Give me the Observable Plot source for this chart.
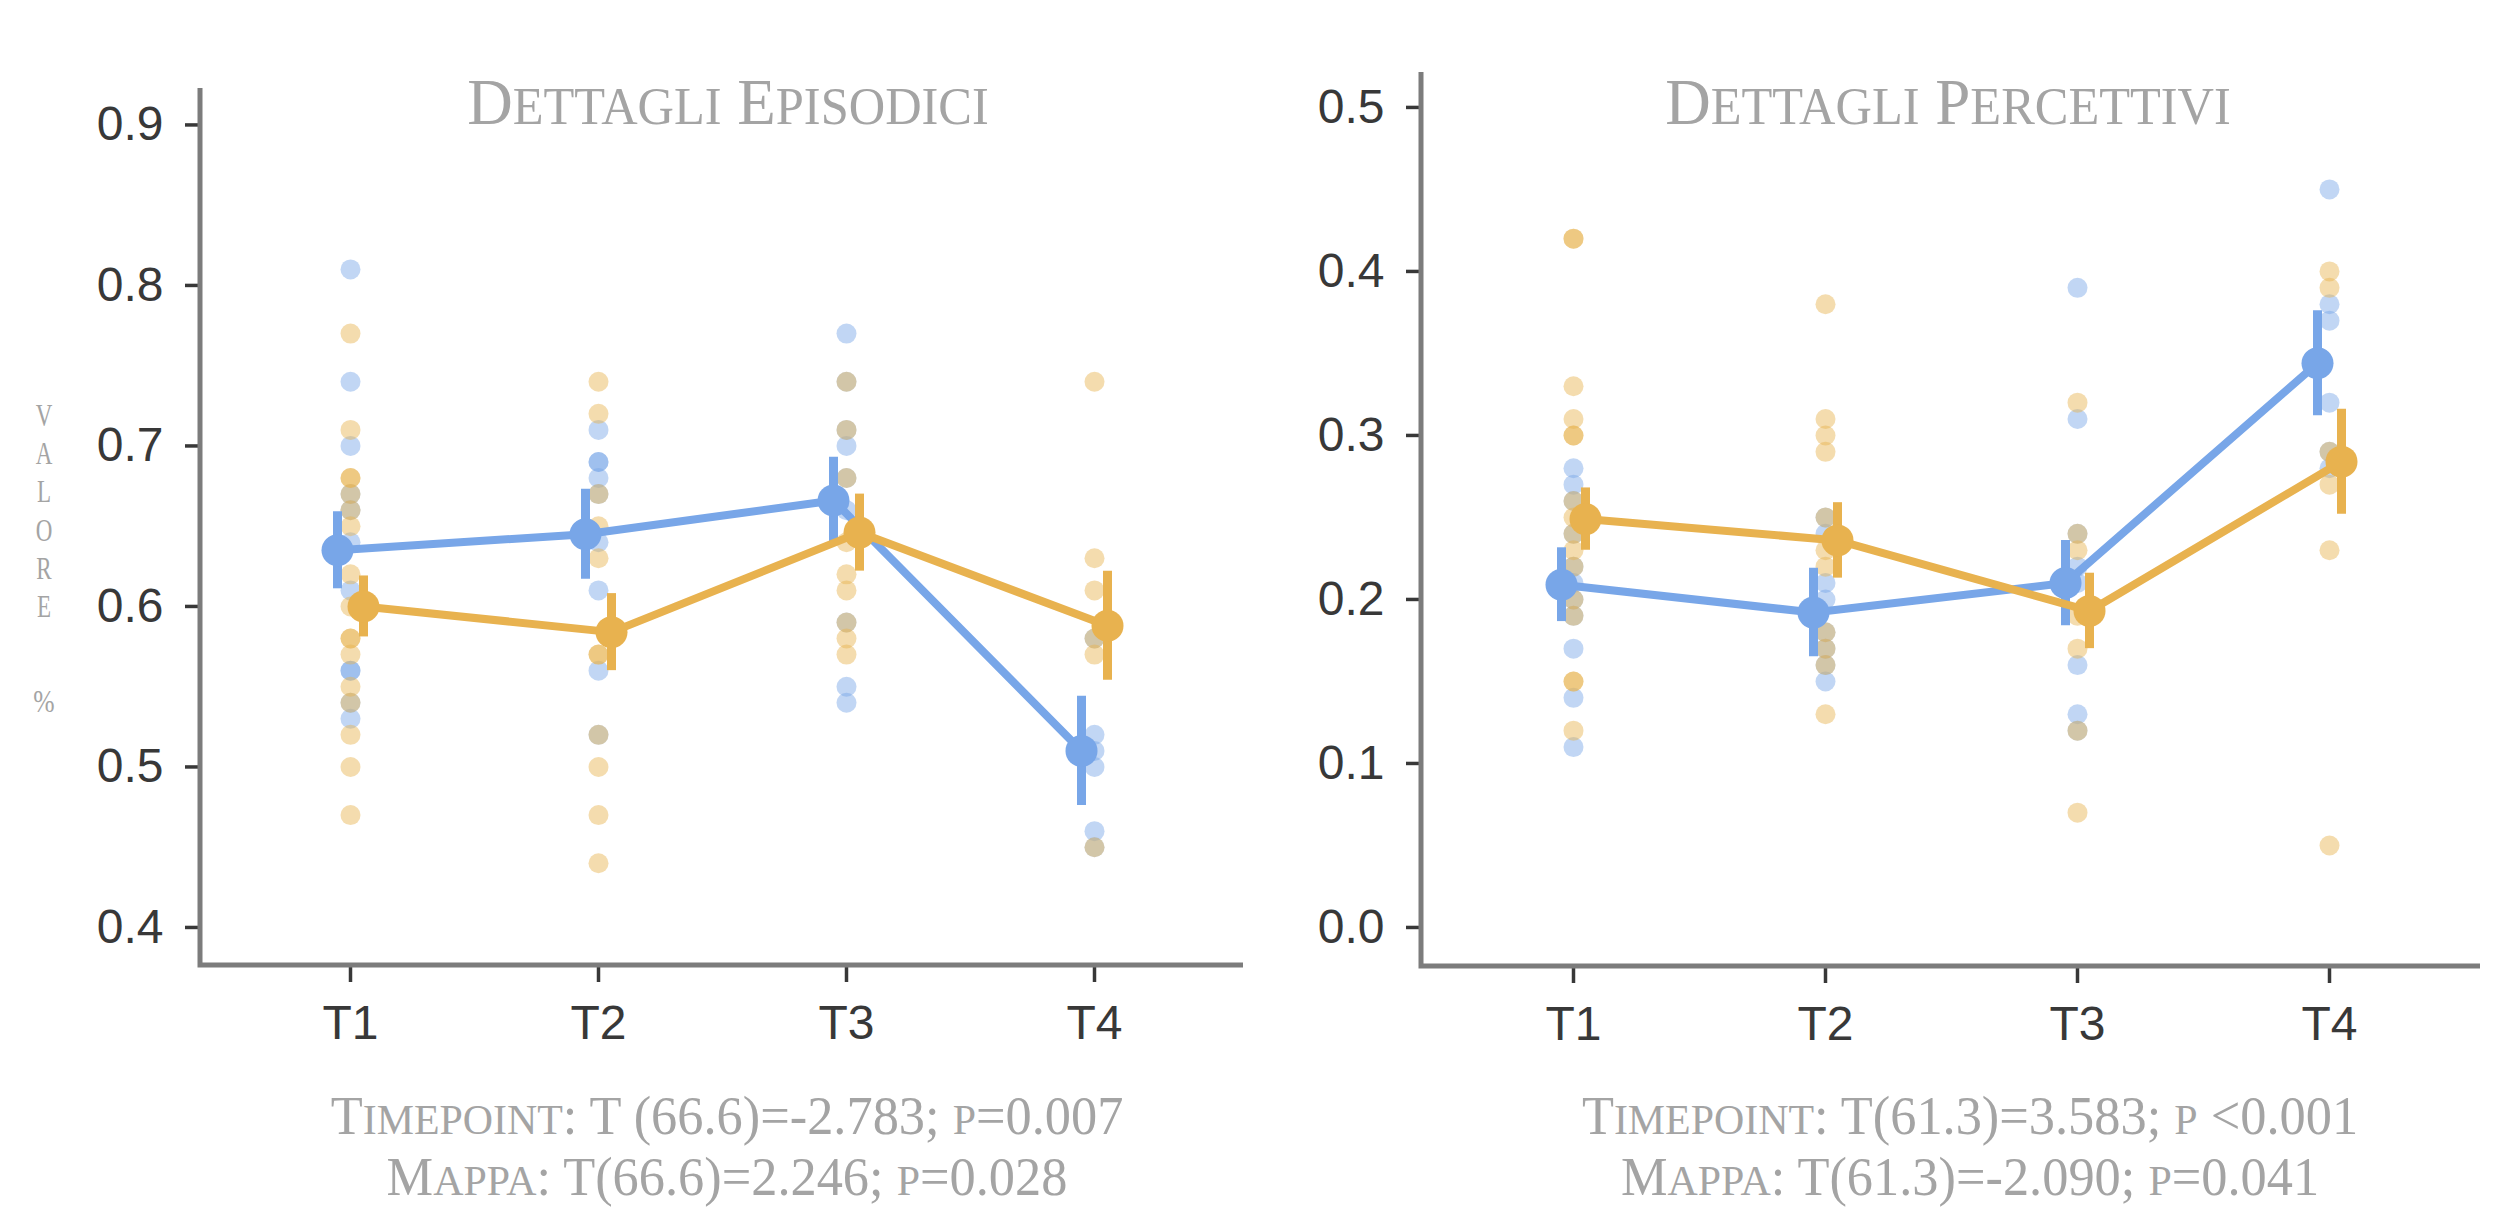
<!DOCTYPE html>
<html>
<head>
<meta charset="utf-8">
<script src="https://cdn.jsdelivr.net/npm/d3@7"></script>
<script src="https://cdn.jsdelivr.net/npm/@observablehq/plot@0.6"></script>
<style>
  html, body { margin: 0; padding: 0; background: #ffffff; }
  #fig { position: relative; width: 2496px; height: 1209px; overflow: hidden; background: #ffffff; }
  #fig > svg { position: absolute; top: 0; }
</style>
</head>
<body>
<div id="fig"></div>
<script>
// ---------- DATA ----------
const timepoints = ["T1", "T2", "T3", "T4"];
const groups = ["A", "B"]; // A = blue series, B = orange series

const epiTicks = [0.4, 0.5, 0.6, 0.7, 0.8, 0.9];
const perTicks = [0.0, 0.1, 0.2, 0.3, 0.4, 0.5];

// Dettagli Episodici – individual values per timepoint
const epiBlue = [
  [0.81, 0.74, 0.70, 0.67, 0.66, 0.64, 0.61, 0.56, 0.56, 0.54, 0.53],
  [0.71, 0.69, 0.69, 0.68, 0.67, 0.64, 0.61, 0.56, 0.52],
  [0.77, 0.74, 0.71, 0.70, 0.68, 0.66, 0.59, 0.55, 0.54],
  [0.58, 0.52, 0.51, 0.50, 0.46, 0.45]
];
const epiOrange = [
  [0.77, 0.71, 0.68, 0.68, 0.67, 0.66, 0.65, 0.62, 0.60, 0.58, 0.58, 0.57, 0.55, 0.54, 0.52, 0.50, 0.47],
  [0.74, 0.72, 0.67, 0.65, 0.63, 0.57, 0.57, 0.52, 0.50, 0.47, 0.44],
  [0.74, 0.71, 0.68, 0.64, 0.62, 0.61, 0.59, 0.58, 0.57],
  [0.74, 0.63, 0.61, 0.58, 0.57, 0.45]
];
const epiBlueMean = [0.635, 0.645, 0.666, 0.510];
const epiBlueSE = [0.024, 0.028, 0.027, 0.034];
const epiOrangeMean = [0.600, 0.584, 0.646, 0.588];
const epiOrangeSE = [0.019, 0.024, 0.024, 0.034];

// Dettagli Percettivi – individual values per timepoint
const perBlue = [
  [0.28, 0.27, 0.26, 0.24, 0.22, 0.21, 0.20, 0.19, 0.17, 0.14, 0.11],
  [0.25, 0.24, 0.21, 0.20, 0.18, 0.17, 0.16, 0.15],
  [0.39, 0.31, 0.24, 0.22, 0.21, 0.16, 0.13, 0.12],
  [0.45, 0.38, 0.37, 0.32, 0.29, 0.28]
];
const perOrange = [
  [0.42, 0.42, 0.33, 0.31, 0.30, 0.30, 0.26, 0.25, 0.24, 0.23, 0.22, 0.20, 0.19, 0.15, 0.15, 0.12],
  [0.38, 0.31, 0.30, 0.29, 0.25, 0.23, 0.22, 0.18, 0.17, 0.16, 0.13],
  [0.32, 0.24, 0.23, 0.19, 0.17, 0.12, 0.07],
  [0.40, 0.39, 0.29, 0.27, 0.23, 0.05]
];
const perBlueMean = [0.209, 0.192, 0.210, 0.344];
const perBlueSE = [0.0225, 0.027, 0.026, 0.032];
const perOrangeMean = [0.249, 0.236, 0.193, 0.284];
const perOrangeSE = [0.019, 0.023, 0.023, 0.032];

const titles = ["Dettagli Episodici", "Dettagli Percettivi"];
const captions = [
  ["Timepoint: T (66.6)=-2.783; p=0.007", "Mappa: T(66.6)=2.246; p=0.028"],
  ["Timepoint: T(61.3)=3.583; p <0.001", "Mappa: T(61.3)=-2.090; p=0.041"]
];
const yLabelWord = "Valore";
const yLabelUnit = "%";

// ---------- STYLE ----------
const BLUE = "#78A6E8";
const ORANGE = "#E8B24F";
const GREY_TEXT = "#a4a4a4";
const AXIS_GREY = "#7c7c7c";

function axisFrame(index, scales, values, dims) {
  const {width, height, marginLeft, marginRight, marginTop, marginBottom} = dims;
  const g = d3.create("svg:g");
  g.append("path")
    .attr("d", `M${marginLeft},${marginTop}V${height - marginBottom}H${width - marginRight}`)
    .attr("fill", "none")
    .attr("stroke", AXIS_GREY)
    .attr("stroke-width", 5);
  return g.node();
}

function panel(o) {
  const raw = [];
  timepoints.forEach((t, i) => {
    o.rawA[i].forEach(v => raw.push({time: t, value: v, group: "A"}));
    o.rawB[i].forEach(v => raw.push({time: t, value: v, group: "B"}));
  });
  const sumA = timepoints.map((t, i) => ({time: t, mean: o.meanA[i], se: o.seA[i]}));
  const sumB = timepoints.map((t, i) => ({time: t, mean: o.meanB[i], se: o.seB[i]}));
  return Plot.plot({
    width: o.width, height: o.height,
    marginLeft: o.mL, marginRight: o.mR, marginTop: o.mT, marginBottom: o.mB,
    x: {type: "point", domain: timepoints, padding: 0.6},
    y: {domain: o.yDomain},
    color: {domain: groups, range: [BLUE, ORANGE]},
    style: {
      fontFamily: "'Liberation Sans', Arial, sans-serif",
      fontSize: "48px",
      color: "#383838",
      background: "transparent",
      overflow: "visible"
    },
    marks: [
      Plot.dot(raw, {x: "time", y: "value", fill: "group", r: 10, fillOpacity: 0.46, stroke: null}),
      Plot.line(sumA, {x: "time", y: "mean", stroke: BLUE, strokeWidth: 8, dx: -o.dodge}),
      Plot.ruleX(sumA, {x: "time", y1: d => d.mean - d.se, y2: d => d.mean + d.se, stroke: BLUE, strokeWidth: 9, dx: -o.dodge}),
      Plot.dot(sumA, {x: "time", y: "mean", r: 16, fill: BLUE, dx: -o.dodge}),
      Plot.line(sumB, {x: "time", y: "mean", stroke: ORANGE, strokeWidth: 8, dx: o.dodge}),
      Plot.ruleX(sumB, {x: "time", y1: d => d.mean - d.se, y2: d => d.mean + d.se, stroke: ORANGE, strokeWidth: 9, dx: o.dodge}),
      Plot.dot(sumB, {x: "time", y: "mean", r: 16, fill: ORANGE, dx: o.dodge}),
      Plot.axisY({ticks: o.ticks, tickFormat: d3.format(".1f"), tickSize: 15, tickPadding: 22, strokeWidth: 3.5, label: null}),
      Plot.axisX({tickSize: 17, tickPadding: 22, strokeWidth: 3.5, label: null}),
      axisFrame
    ]
  });
}

const fig = document.getElementById("fig");

const left = panel({
  rawA: epiBlue, rawB: epiOrange,
  meanA: epiBlueMean, seA: epiBlueSE, meanB: epiOrangeMean, seB: epiOrangeSE,
  yDomain: [0.3763, 0.9227], ticks: epiTicks,
  width: 1248, height: 1000, mL: 200, mR: 5, mT: 88, mB: 35, dodge: 13
});
left.style.left = "0px";
fig.appendChild(left);

const right = panel({
  rawA: perBlue, rawB: perOrange,
  meanA: perBlueMean, seA: perBlueSE, meanB: perOrangeMean, seB: perOrangeSE,
  yDomain: [-0.0238, 0.5213], ticks: perTicks,
  width: 1248, height: 1000, mL: 173, mR: 16, mT: 72, mB: 34, dodge: 12
});
right.style.left = "1248px";
fig.appendChild(right);

// ---------- TEXT OVERLAY (titles, captions, y label) ----------
const ov = d3.create("svg")
  .attr("width", 2496).attr("height", 1209)
  .style("left", "0px").style("pointer-events", "none");

function smallCapsText(cx, baseline, str, size, sx, ratio = 0.8) {
  const t = ov.append("text")
    .attr("transform", `translate(${cx},${baseline}) scale(${sx},1)`)
    .attr("text-anchor", "middle")
    .attr("font-family", "'Liberation Serif', 'Times New Roman', serif")
    .attr("fill", GREY_TEXT);
  const runs = [];
  for (const ch of str) {
    const small = /[a-zà-ù]/.test(ch);
    if (runs.length && runs[runs.length - 1].small === small) runs[runs.length - 1].s += ch;
    else runs.push({small, s: ch});
  }
  runs.forEach(r => {
    const sp = t.append("tspan").attr("font-size", r.small ? size * ratio : size).text(r.s);
    if (r.small) sp.style("text-transform", "uppercase");
  });
  return t;
}

smallCapsText(728, 124, titles[0], 65, 0.97);
smallCapsText(1948, 124, titles[1], 65, 0.97);
smallCapsText(727, 1134, captions[0][0], 54, 0.97);
smallCapsText(727, 1195, captions[0][1], 54, 0.97);
smallCapsText(1970, 1134, captions[1][0], 54, 0.97);
smallCapsText(1970, 1195, captions[1][1], 54, 0.97);

// vertical stacked y label
[...yLabelWord].forEach((ch, i) => {
  ov.append("text")
    .attr("transform", `translate(44,${426 + i * 38.2}) scale(0.72,1)`)
    .attr("text-anchor", "middle")
    .attr("font-family", "'Liberation Serif', 'Times New Roman', serif")
    .attr("font-size", 32)
    .attr("fill", GREY_TEXT)
    .style("text-transform", "uppercase")
    .text(ch);
});
ov.append("text")
  .attr("transform", `translate(44,712) scale(0.8,1)`)
  .attr("text-anchor", "middle")
  .attr("font-family", "'Liberation Serif', 'Times New Roman', serif")
  .attr("font-size", 32)
  .attr("fill", GREY_TEXT)
  .text(yLabelUnit);

fig.appendChild(ov.node());
</script>
</body>
</html>
